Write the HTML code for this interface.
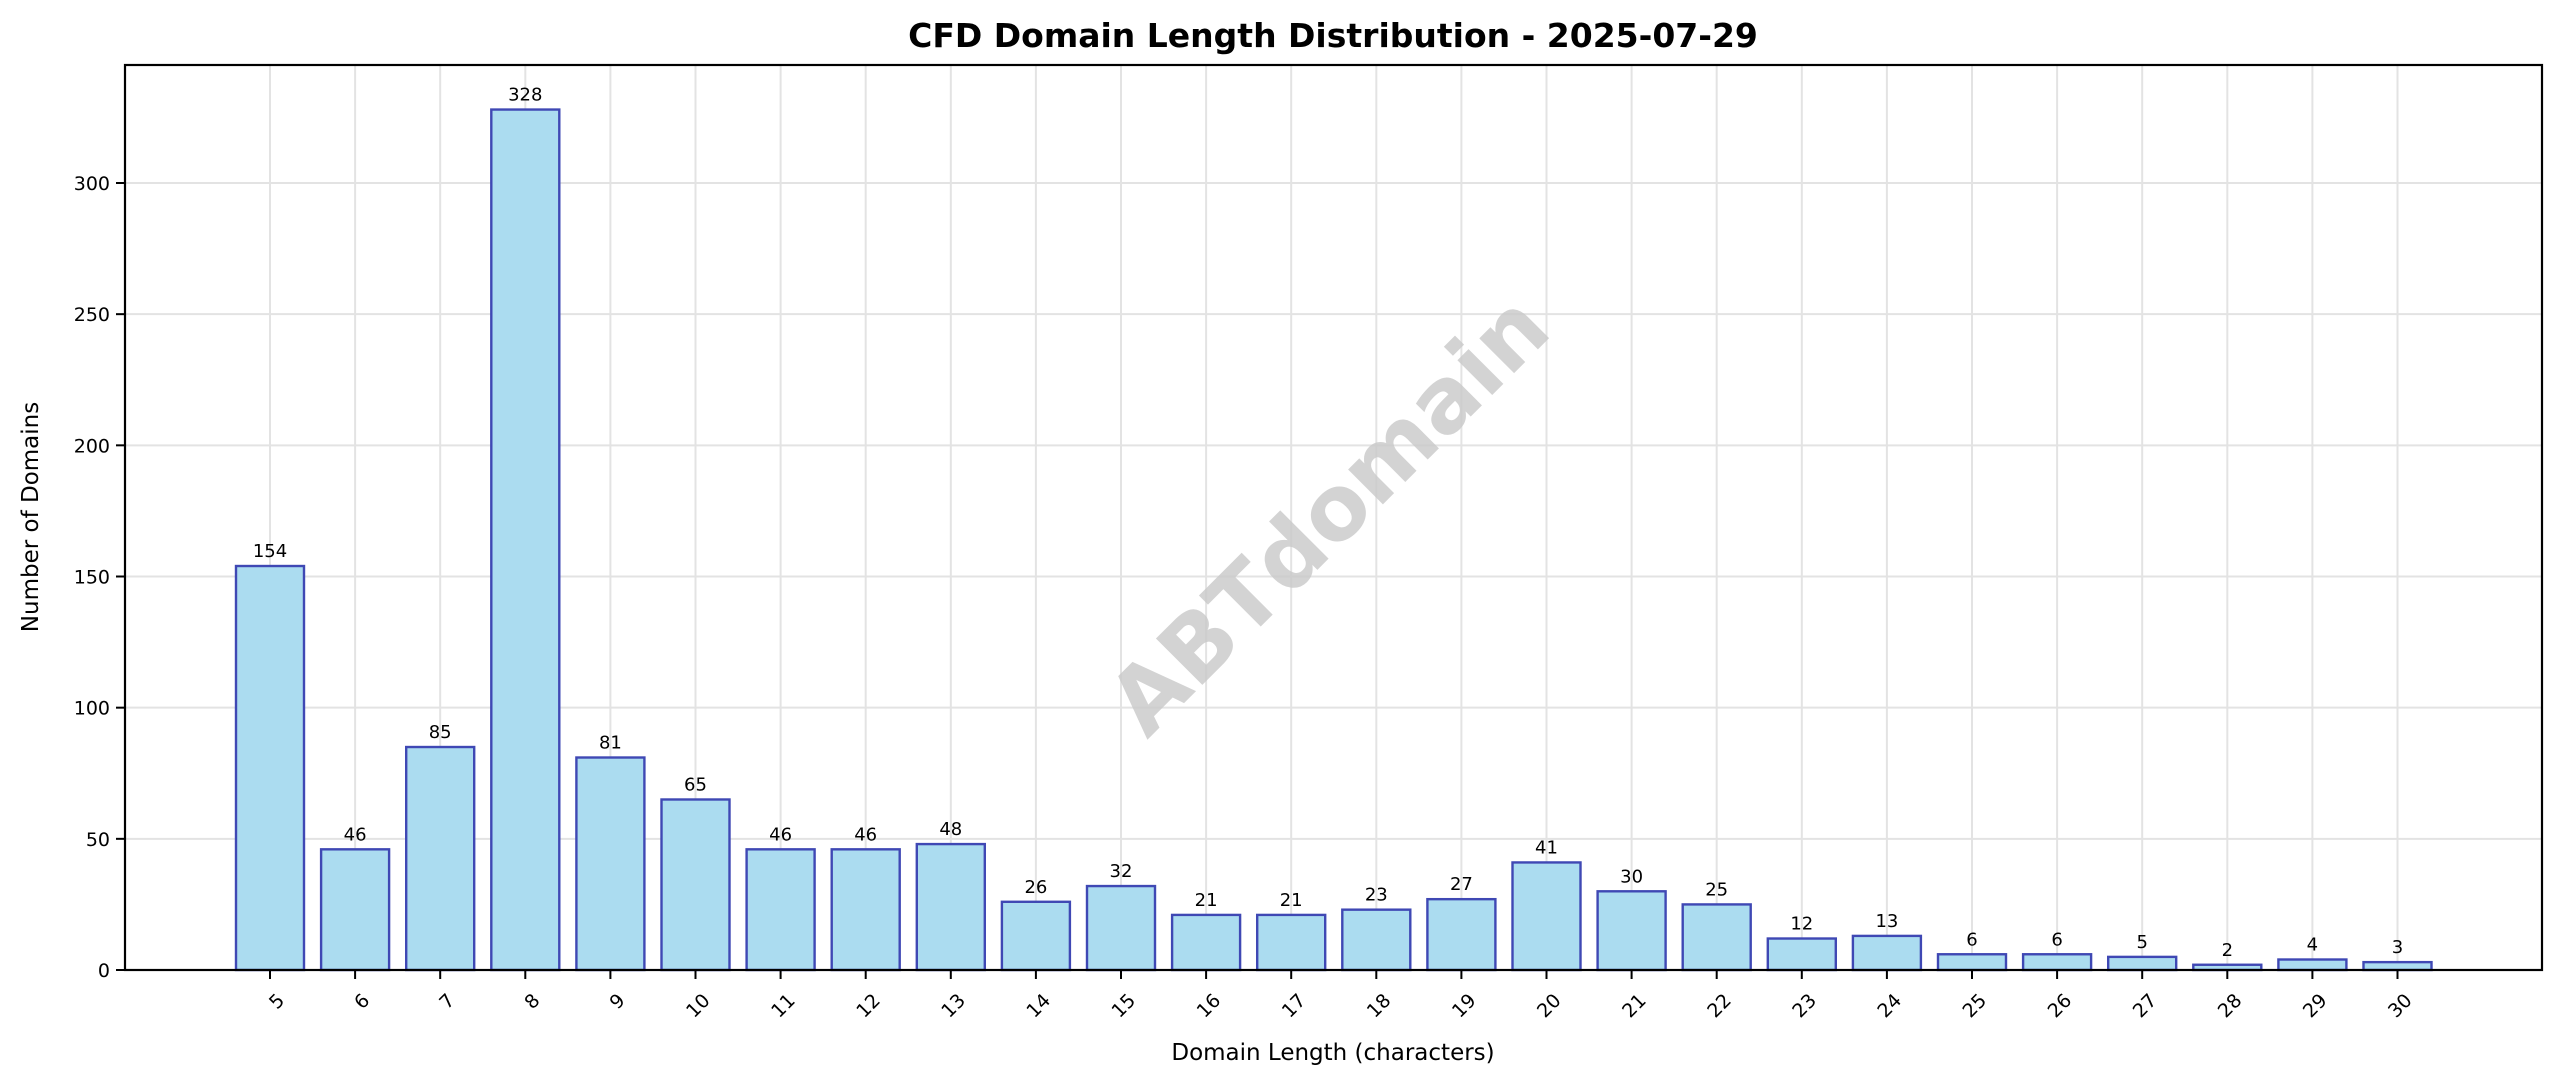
<!DOCTYPE html>
<html><head><meta charset="utf-8"><style>
body{margin:0;background:#fff;}
svg{display:block;font-family:"DejaVu Sans","Liberation Sans",sans-serif;}
</style></head><body>
<svg id="chart" width="2560" height="1087" viewBox="0 0 2560 1087">
<text x="1333" y="47" font-size="33" font-weight="bold" text-anchor="middle" fill="#000">CFD Domain Length Distribution - 2025-07-29</text>
<g id="grid"></g>
<g id="bars"></g>
<text x="1333" y="519" font-size="90" font-weight="bold" fill="#c8c8c8" fill-opacity="0.8" text-anchor="middle" dominant-baseline="middle" transform="rotate(-45 1333 519)">ABTdomain</text>
<rect x="125" y="65" width="2417" height="905" fill="none" stroke="#000" stroke-width="2.2"/>
<g id="axes"></g>
<text x="1333" y="1060" font-size="23" text-anchor="middle">Domain Length (characters)</text>
<text x="38" y="517" font-size="23" text-anchor="middle" transform="rotate(-90 38 517)">Number of Domains</text>
</svg>
<script>
const categories = [5,6,7,8,9,10,11,12,13,14,15,16,17,18,19,20,21,22,23,24,25,26,27,28,29,30];
const counts = [154,46,85,328,81,65,46,46,48,26,32,21,21,23,27,41,30,25,12,13,6,6,5,2,4,3];
const yTicks = [0,50,100,150,200,250,300];

const NS = "http://www.w3.org/2000/svg";
const L=125,R=2542,T=65,B=970;
const yMax=(B-T)/((970-183)/300);
function xPos(i){return 270+i*85.1;}
function yPos(v){return B-v*(B-183)/300;}
function mk(tag,attrs,parent,text){const e=document.createElementNS(NS,tag);for(const k in attrs)e.setAttribute(k,attrs[k]);if(text!==undefined)e.textContent=text;parent.appendChild(e);return e;}
const grid=document.getElementById('grid'),bars=document.getElementById('bars'),axes=document.getElementById('axes');
yTicks.forEach(t=>{
  const y=yPos(t);
  const g=mk('line',{x1:L,x2:R,y1:y,y2:y,stroke:'#e3e3e3','stroke-width':2},grid);
  
  
  const tk=mk('line',{x1:L-9,x2:L,y1:y,y2:y,stroke:'#000','stroke-width':2},axes);
  
  
  const lb=mk('text',{x:L-15,y:y+7,'font-size':19,'text-anchor':'end'},axes,String(t));
  
  
});
categories.forEach((c,i)=>{
  const x=xPos(i);
  const g=mk('line',{x1:x,x2:x,y1:T,y2:B,stroke:'#e3e3e3','stroke-width':2},grid);
  
  
  const v=counts[i],y=yPos(v);
  const r=mk('rect',{x:x-34,y:y,width:68,height:B-y,fill:'#abdcf0',stroke:'#3f48b4','stroke-width':2.4},bars);
  
  
  const vl=mk('text',{x:x,y:y-9,'font-size':18,'text-anchor':'middle'},bars,String(v));
  
  
  const tk=mk('line',{x1:x,x2:x,y1:B,y2:B+9,stroke:'#000','stroke-width':2},axes);
  
  
  const lb=mk('text',{x:x+6,y:B+22,'font-size':19,'text-anchor':'end',transform:'rotate(-45 '+(x+6)+' '+(B+22)+')','dominant-baseline':'hanging'},axes,String(c));
  
  
});
</script>
</body></html>
